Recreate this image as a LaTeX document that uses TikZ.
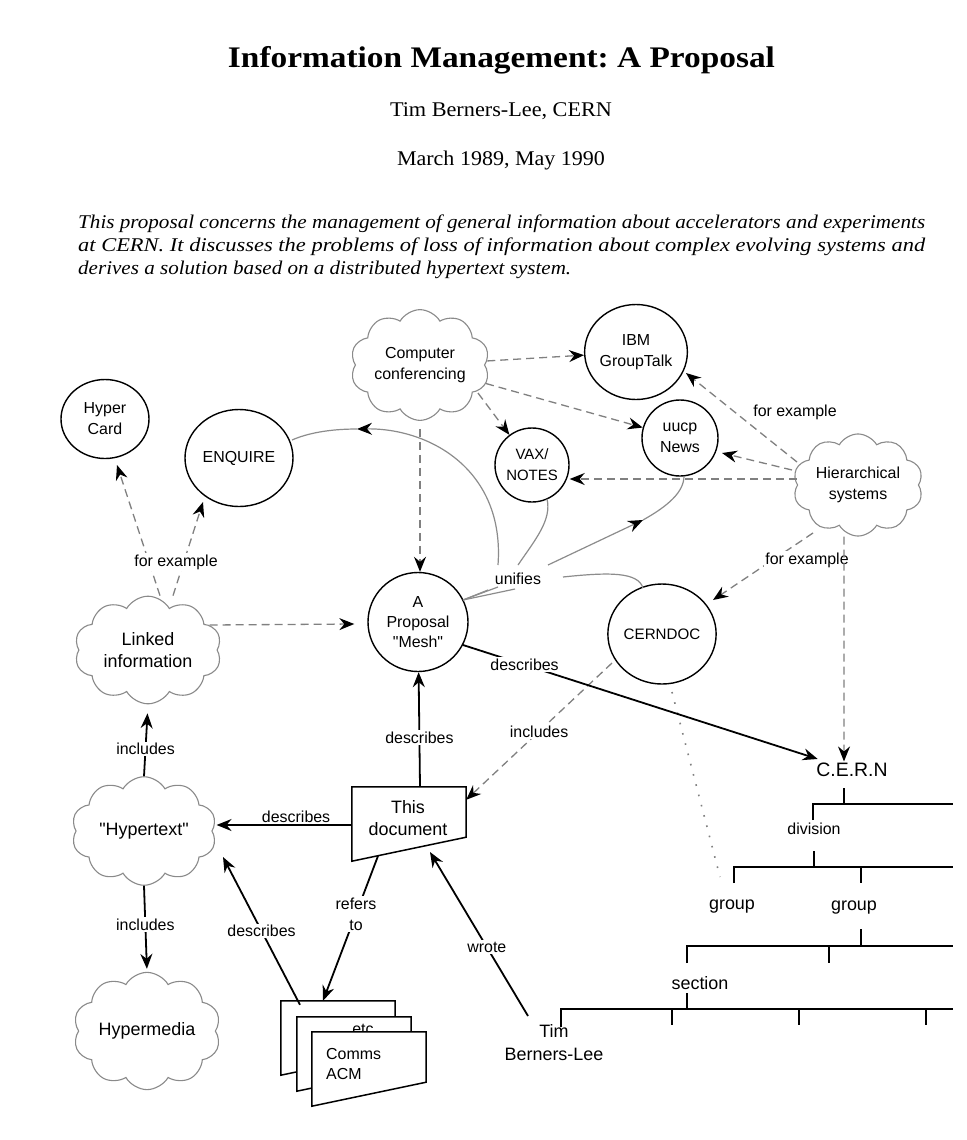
\documentclass[tikz,border=0pt]{standalone}
\usepackage{fontspec}
\setmainfont{Liberation Serif}
\setsansfont{Liberation Sans}[Ligatures=TeXOff]
\usetikzlibrary{shapes.geometric,shapes.symbols,arrows.meta,calc}
\newcommand\myfs[2]{\fontsize{#1}{#2}\selectfont}
\definecolor{cgray}{HTML}{8A8A8A}
\definecolor{dgray}{HTML}{808080}
\definecolor{ugray}{HTML}{8C8C8C}
\frenchspacing
\begin{document}
\begin{tikzpicture}[x=1bp,y=-1bp,
  tip/.style={-{Stealth[length=15bp,width=12bp,inset=5bp,color=black]}},
  fsix/.style={font=\sffamily\myfs{16}{21}},
  feight/.style={font=\sffamily\myfs{18}{22}},
  circ/.style={ellipse,draw=black,line width=1.4bp,inner sep=0pt,align=center,fsix},
  cld/.style={cloud,cloud puffs=10,cloud puff arc=120,aspect=1.4,draw=cgray,line width=1.1bp,inner sep=0pt,align=center,fsix},
  dsh/.style={draw=dgray,line width=1.3bp,dash pattern=on 8bp off 5bp},
  sol/.style={draw=black,line width=1.8bp},
  ugl/.style={draw=ugray,line width=1.2bp},
  lab/.style={fsix,inner sep=1.5bp,align=center},
  labw/.style={lab,fill=white},
  tree/.style={draw=black,line width=1.6bp},
  sheet/.style={draw=black,line width=1.5bp,fill=white},
  box/.style={minimum width=114bp,minimum height=74bp,inner sep=0pt},
]
\fill[white] (0,0) rectangle (967,1140);
\useasboundingbox (0,0) rectangle (967,1140);

% ---------- header ----------
\node[font=\myfs{30}{36}\bfseries] (title) at (501.5,60) {\resizebox{547bp}{\height}{Information Management: A Proposal}};
\node[font=\myfs{21}{25}] (author) at (501,111) {\resizebox{222bp}{\height}{Tim Berners-Lee, CERN}};
\node[font=\myfs{21}{25}] (date) at (501,160) {\resizebox{208bp}{\height}{March 1989, May 1990}};
\node[anchor=west,inner sep=0pt,font=\myfs{19.5}{23}\itshape] (abs1) at (78,224) {\resizebox{847bp}{\height}{This proposal concerns the management of general information about accelerators and experiments}};
\node[anchor=west,inner sep=0pt,font=\myfs{19.5}{23}\itshape] (abs2) at (78,247) {\resizebox{847bp}{\height}{at CERN. It discusses the problems of loss of information about complex evolving systems and}};
\node[anchor=west,inner sep=0pt,font=\myfs{19.5}{23}\itshape] (abs3) at (78,270) {\resizebox{493bp}{\height}{derives a solution based on a distributed hypertext system.}};

% ---------- nodes ----------
\node[cld,minimum width=130bp,minimum height=92bp] (cc) at (420,365) {Computer\\conferencing};
\node[circ,minimum width=97bp,minimum height=95bp] (ibm) at (636,352) {IBM\\GroupTalk};
\node[circ,minimum size=76bp] (uucp) at (680,438) {uucp\\News};
\node[circ,minimum size=74bp,font=\sffamily\myfs{15}{21}] (vax) at (532,465) {VAX/\\NOTES};
\node[circ,minimum width=88bp,minimum height=79bp] (hyper) at (105,419) {Hyper\\Card};
\node[circ,minimum width=108bp,minimum height=97bp] (enq) at (239,458) {ENQUIRE};
\node[cld,minimum width=130bp,minimum height=96bp] (hier) at (858,485) {Hierarchical\\systems};
\node[cld,feight,minimum width=147bp,minimum height=104bp] (linked) at (148,650) {Linked\\information};
\node[circ,minimum width=100bp,minimum height=99bp,font=\sffamily\myfs{16}{20}] (mesh) at (418,622) {A\\Proposal\\"Mesh"};
\node[circ,minimum width=107bp,minimum height=100bp,font=\sffamily\myfs{15.2}{20}] (cerndoc) at (662,634) {CERNDOC};
\node[lab,font=\sffamily\myfs{19.5}{24}] (cern) at (852,770) {C.E.R.N};
\node[cld,feight,minimum width=145bp,minimum height=108bp] (ht) at (144,831) {"Hypertext"};
\node[cld,feight,minimum width=145bp,minimum height=112bp] (hm) at (147,1031) {Hypermedia};

% this document
\node[box] (doc) at (409,824) {};
\draw[sheet] (doc.north west) -- (doc.north east) -- ([yshift=24bp]doc.south east) -- (doc.south west) -- cycle;
\node[lab,feight] (doct) at (408,818) {This\\document};

% stack of documents
\node[box] (s1) at (338,1038) {};
\draw[sheet] (s1.north west) -- (s1.north east) -- ([yshift=24bp]s1.south east) -- (s1.south west) -- cycle;
\node[box] (s2) at (354,1054) {};
\draw[sheet] (s2.north west) -- (s2.north east) -- ([yshift=24bp]s2.south east) -- (s2.south west) -- cycle;
\node[lab] (etc) at (363,1029) {etc};
\node[box] (s3) at (369,1069) {};
\draw[sheet] (s3.north west) -- (s3.north east) -- ([yshift=24bp]s3.south east) -- (s3.south west) -- cycle;
\node[lab,anchor=west,align=left,inner sep=0pt] (acm) at (326,1064) {Comms\\ACM};

\node[lab,font=\sffamily\myfs{18}{23}] (tim) at (554,1043) {Tim\\Berners-Lee};

% tree labels
\node[lab] (div) at (814,829) {division};
\node[lab,feight] (g1) at (732,907) {group};
\node[lab,feight] (g2) at (854,908) {group};
\node[lab,feight] (sec) at (700,983) {section};

% tree lines
\draw[tree] (844,788) -- (844,804);
\draw[tree] (813,820) -- (813,804) -- (953,804);
\draw[tree] (814,851) -- (814,867);
\draw[tree] (734,883) -- (734,867) -- (953,867);
\draw[tree] (861,867) -- (861,883);
\draw[tree] (861,929) -- (861,946);
\draw[tree] (687,963) -- (687,946) -- (953,946);
\draw[tree] (829,946) -- (829,963);
\draw[tree] (687,993) -- (687,1009);
\draw[tree] (561,1027) -- (561,1009) -- (953,1009);
\draw[tree] (672,1009) -- (672,1025);
\draw[tree] (799,1009) -- (799,1025);
\draw[tree] (926,1009) -- (926,1025);

% ---------- dashed connectors ----------
\draw[dsh,tip] (cc) -- (ibm);
\draw[dsh,tip] (cc) -- (uucp);
\draw[dsh,tip] ([shift={(58,28)}]cc.center) -- (vax);
\draw[dsh,tip] ([yshift=-8bp]cc.south) -- (cc.south |- mesh.north);

\draw[dsh,tip] ([shift={(-61,-23)}]hier.center) -- ([shift={(50,21)}]ibm.center);
\node[lab] (fe1) at (795,412) {for example};
\draw[dsh,tip] ([shift={(-66,-15)}]hier.center) -- ([shift={(42,15)}]uucp.center);
\draw[dsh,tip] ([yshift=6bp]hier.west) -- ([yshift=6bp]hier.west -| vax.east);
\draw[dsh,tip] ([shift={(-45,48)}]hier.center) -- ([shift={(51,-34)}]cerndoc.center);
\node[labw] (fe2) at (807,560) {for example};
\draw[dsh,tip] ([xshift=-14bp]hier.south) -- ([xshift=-8bp]cern.north);

\draw[dsh,tip] ([xshift=12bp]linked.north) -- ([shift={(12,46)}]hyper.center);
\draw[dsh,tip] ([xshift=25bp]linked.north) -- ([shift={(-36,44)}]enq.center);
\node[labw] (fe3) at (176,562) {for example};
\draw[dsh,tip] ([shift={(-8,-25)}]linked.east) -- ([shift={(-13,2)}]mesh.west);

\draw[dsh,tip] ([shift={(-50,29)}]cerndoc.center) -- ([yshift=-13bp]doc.north east) node[labw,pos=0.5] {includes};
\draw[draw=gray,line width=1.6bp,dash pattern=on 1.6bp off 9bp] ([shift={(10,58)}]cerndoc.center) -- ([shift={(-12,-30)}]g1.center);

% ---------- solid connectors ----------
\draw[sol,tip,shorten >=9bp] (ht.north) -- (linked.south) node[labw,pos=0.38] {includes};
\draw[sol,tip,shorten >=3bp] (ht.south) -- (hm.north) node[labw,pos=0.45] {includes};
\draw[sol,tip,shorten >=4bp] ([yshift=-1bp]doc.west) -- ([yshift=-1bp]doc.west -| ht.east) node[lab,above,pos=0.4] {describes};
\draw[sol,tip] ([xshift=11bp]doc.north) -- (mesh) node[labw,pos=0.43] {describes};
\draw[sol,tip,shorten >=8bp] ([shift={(45,23)}]mesh.center) -- (cern) node[labw,pos=0.17] {describes};
\draw[sol,tip] ([shift={(-31,32)}]doc.center) -- ([xshift=-15bp]s1.north) node[labw,pos=0.4] {refers\\to};
\draw[sol,tip] ([shift={(-38,4)}]s1.north) -- ([shift={(79,26)}]ht.center) node[labw,pos=0.5] {describes};
\draw[sol,tip] ([shift={(-26,-27)}]tim.center) -- ([shift={(21,28)}]doc.center) node[labw,pos=0.42] {wrote};

% ---------- unifies ----------
\node[lab] (uni) at (518,579) {unifies};
\coordinate (mu) at ([shift={(45,-22)}]mesh.center);
\draw[ugl] (mu) -- ([shift={(-30,11)}]uni.center);
\draw[ugl] (mu) -- ([shift={(-20,8)}]uni.center);
\draw[ugl] (mu) -- ([shift={(-3,10)}]uni.center);
\coordinate (aE) at (357,429);
\draw[ugl,tip] ([shift={(-20,-14)}]uni.center) .. controls (505,470) and (430,428) .. (aE);
\draw[ugl] (aE) .. controls (330,429) and (308,433) .. ([shift={(53,-18)}]enq.center);
\draw[ugl] ([shift={(0,-14)}]uni.center) .. controls (535,540) and (552,520) .. ([shift={(15,34)}]vax.center);
\coordinate (aU) at (643,520);
\draw[ugl,tip] ([shift={(30,-14)}]uni.center) -- (aU);
\draw[ugl] (aU) .. controls (668,506) and (684,492) .. ([shift={(4,38)}]uucp.center);
\draw[ugl] ([shift={(45,-2)}]uni.center) .. controls (610,572) and (638,572) .. ([shift={(-19,-46)}]cerndoc.center);
\end{tikzpicture}
\end{document}
